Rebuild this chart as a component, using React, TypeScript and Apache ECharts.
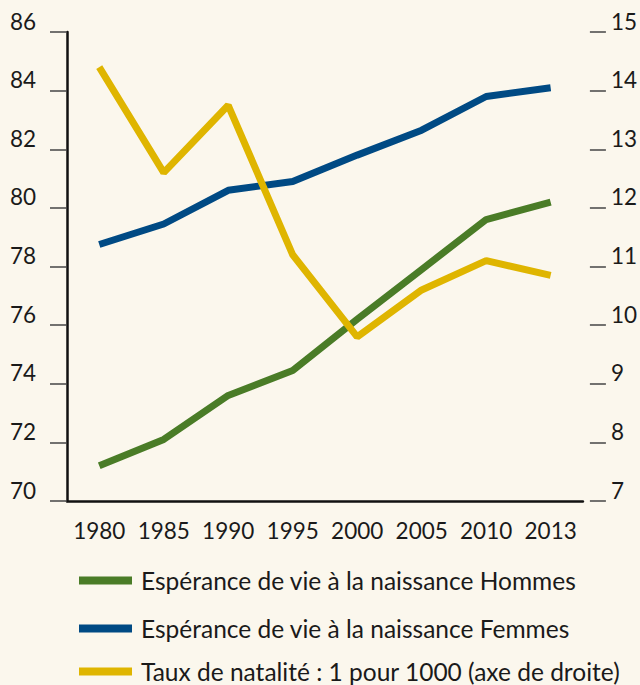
import React, { useEffect, useRef } from "react";
import * as echarts from "echarts";

const years = ["1980", "1985", "1990", "1995", "2000", "2005", "2010", "2013"];
const hommes = [71.2, 72.1, 73.6, 74.45, 76.2, 77.9, 79.6, 80.2];
const femmes = [78.75, 79.45, 80.6, 80.9, 81.8, 82.65, 83.8, 84.1];
const natalite = [14.4, 12.6, 13.75, 11.2, 9.8, 10.6, 11.1, 10.85];

const names = [
  "Espérance de vie à la naissance Hommes",
  "Espérance de vie à la naissance Femmes",
  "Taux de natalité : 1 pour 1000 (axe de droite)",
];
const colors = ["#4a7c27", "#004a84", "#dfb500"];
const legendTops = [568, 616, 659];

const FONT = "Lato";

export default function App() {
  const ref = useRef<HTMLDivElement>(null);
  useEffect(() => {
    if (!ref.current) return;
    const chart = echarts.init(ref.current, null, { renderer: "svg" });
    chart.setOption({
      animation: false,
      backgroundColor: "#fbf7ed",
      textStyle: { fontFamily: FONT, color: "#1a1a1a" },
      grid: { left: 67, right: 55, top: 32, bottom: 184, containLabel: false },
      legend: names.map((n, i) => ({
        orient: "horizontal",
        left: 79,
        top: legendTops[i],
        padding: 0,
        icon: "rect",
        itemWidth: 53,
        itemHeight: 8,
        textStyle: {
          fontFamily: FONT,
          fontSize: 24.5,
          lineHeight: 24,
          color: "#1a1a1a",
          padding: [0, 0, 0, 4],
        },
        data: [n],
      })),
      xAxis: {
        type: "category",
        data: years,
        boundaryGap: true,
        axisLine: { lineStyle: { color: "#111", width: 2.5 } },
        axisTick: { show: false },
        axisLabel: { fontFamily: FONT, fontSize: 22.5, color: "#1a1a1a", margin: 18, interval: 0 },
      },
      yAxis: [
        {
          type: "value",
          min: 70,
          max: 86,
          interval: 2,
          position: "left",
          axisLine: { show: true, lineStyle: { color: "#111", width: 2.5 } },
          axisTick: { show: true, length: 17, lineStyle: { color: "#444", width: 1.5 } },
          splitLine: { show: false },
          axisLabel: {
            fontFamily: FONT,
            fontSize: 22.5,
            color: "#1a1a1a",
            margin: 31,
            verticalAlign: "bottom",
            lineHeight: 22,
          },
        },
        {
          type: "value",
          min: 7,
          max: 15,
          interval: 1,
          position: "right",
          offset: 23,
          axisLine: { show: false },
          axisTick: { show: true, inside: true, length: 16, lineStyle: { color: "#444", width: 1.5 } },
          splitLine: { show: false },
          axisLabel: {
            fontFamily: FONT,
            fontSize: 22.5,
            color: "#1a1a1a",
            margin: 5,
            verticalAlign: "bottom",
            lineHeight: 22,
          },
        },
      ],
      series: [
        {
          name: names[0],
          type: "line",
          data: hommes,
          yAxisIndex: 0,
          symbol: "none",
          lineStyle: { color: colors[0], width: 7 },
          itemStyle: { color: colors[0] },
        },
        {
          name: names[1],
          type: "line",
          data: femmes,
          yAxisIndex: 0,
          symbol: "none",
          lineStyle: { color: colors[1], width: 7 },
          itemStyle: { color: colors[1] },
        },
        {
          name: names[2],
          type: "line",
          data: natalite,
          yAxisIndex: 1,
          symbol: "none",
          lineStyle: { color: colors[2], width: 7 },
          itemStyle: { color: colors[2] },
        },
      ],
    });
    return () => chart.dispose();
  }, []);
  return <div ref={ref} style={{ width: 640, height: 685, position: "absolute", left: 0, top: 0 }} />;
}
